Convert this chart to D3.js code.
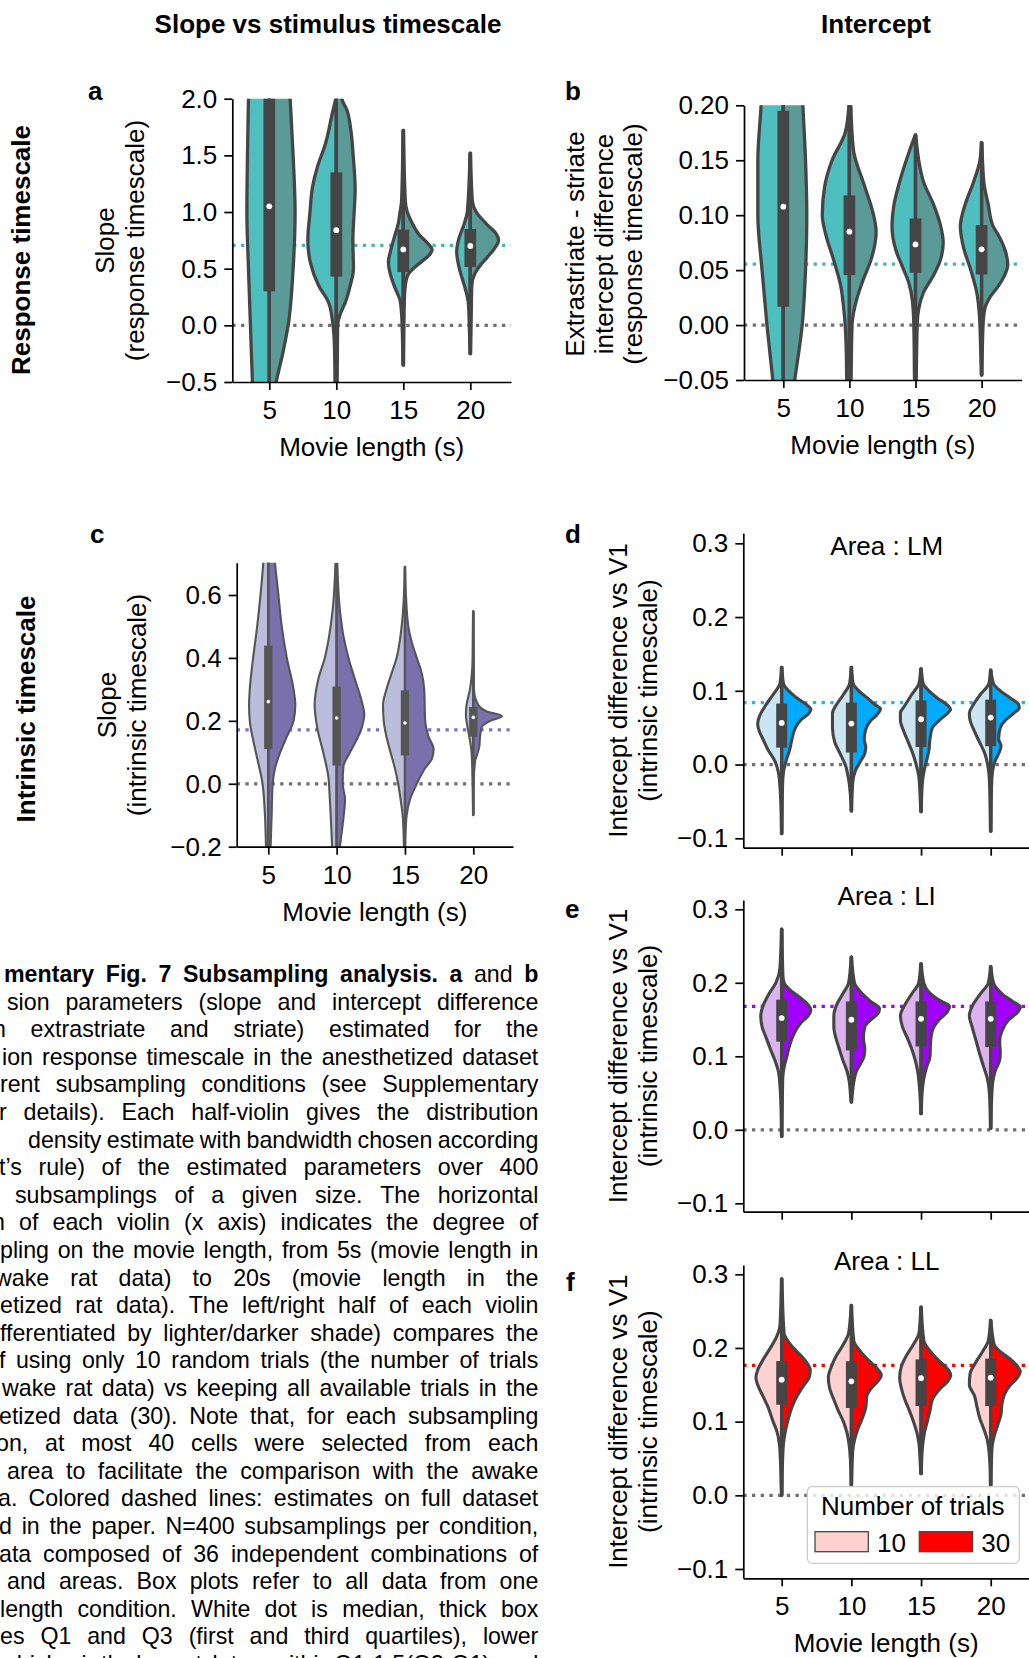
<!DOCTYPE html>
<html><head><meta charset="utf-8">
<script src="https://cdn.jsdelivr.net/npm/d3@7"></script>
<style>body{margin:0;background:#fff}svg{display:block}</style>
</head><body>
<svg id="fig" width="1029" height="1658"></svg>
<script>
// ---------------- DATA ----------------
const movieLengths = [5, 10, 15, 20];
const trialCounts = [10, 30];

// Violin profiles: [value, relative density] (left = 10 trials, right = 30 trials)
const aLeft = [
  [[2.6,20],[2.0,21],[1.5,22],[1.0,22.6],[0.5,21],[0.0,19],[-0.5,17],[-1.0,14],[-1.3,10]],
  [[2.0,0.5],[1.87,4],[1.6,11],[1.4,19],[1.22,24],[1.0,26.5],[0.75,28.7],[0.55,26],[0.35,17.7],[0.2,7.7],[0.0,3.3],[-0.2,1.8],[-0.6,1.2]],
  [[1.72,0.3],[1.1,1.7],[1.0,3.3],[0.9,5],[0.8,8.3],[0.65,13],[0.56,15],[0.45,13],[0.33,8.3],[0.22,3.3],[0.1,1.7],[0.0,1.2],[-0.35,0.3]],
  [[1.52,0.3],[1.0,3],[0.9,6],[0.75,12],[0.65,13.7],[0.5,11],[0.33,5.3],[0.2,2],[0.0,1],[-0.25,0.3]]
];
const aRight = [
  [[2.6,17],[2.0,21],[1.5,24],[1.0,26],[0.5,24],[0.0,19],[-0.25,13.5],[-0.5,7],[-0.8,2]],
  [[2.5,4],[2.0,5.7],[1.9,10.7],[1.7,15],[1.5,17],[1.2,19],[1.0,18],[0.75,16.7],[0.5,17.3],[0.35,14],[0.2,9],[0.1,4],[0.0,1.3],[-0.6,0.8]],
  [[1.72,0.3],[1.1,2],[1.0,4],[0.9,9],[0.8,16],[0.72,25],[0.67,29],[0.62,26],[0.56,18],[0.5,10],[0.45,5],[0.35,2],[0.2,1],[-0.35,0.3]],
  [[1.52,0.3],[1.1,2],[1.0,6],[0.88,18],[0.81,26],[0.75,28.5],[0.68,24.5],[0.6,17],[0.54,11],[0.46,4.7],[0.35,1.5],[0.0,0.8],[-0.25,0.3]]
];
const aQ1 = [0.30, 0.43, 0.47, 0.515];
const aMedian = [1.05, 0.84, 0.67, 0.70];
const aQ3 = [2.5, 1.35, 0.845, 0.85];
const aLow = [-1.3, -0.6, -0.35, -0.25];
const aHigh = [3.0, 2.4, 1.72, 1.52];
const aReference = 0.706;
const aTicks = [-0.5, 0, 0.5, 1.0, 1.5, 2.0];

const bLeft = [
  [[0.26,20],[0.20,22.7],[0.15,26],[0.10,26],[0.05,21.7],[0.0,16.7],[-0.05,10.7],[-0.1,5]],
  [[0.20,0.5],[0.175,4.3],[0.15,17.7],[0.126,25.3],[0.10,27.7],[0.083,24.3],[0.059,16],[0.035,8.7],[0.017,6],[0.0,4.3],[-0.02,3.3],[-0.05,2.7],[-0.08,1.5]],
  [[0.173,0.3],[0.153,8.3],[0.129,16.7],[0.108,22.3],[0.09,24],[0.068,20],[0.053,13.3],[0.038,6.7],[0.023,3.3],[0.0,1.7],[-0.05,1],[-0.08,0.5]],
  [[0.166,0.3],[0.15,1.7],[0.13,8.3],[0.11,16.7],[0.09,21.7],[0.07,18.3],[0.05,11],[0.03,5],[0.01,2.3],[-0.02,1],[-0.0455,0.3]]
];
const bRight = [
  [[0.26,17],[0.20,20],[0.15,22.7],[0.10,24],[0.05,22.7],[0.0,19.3],[-0.05,11.7],[-0.1,4]],
  [[0.20,1.5],[0.16,4],[0.126,15.7],[0.10,24.7],[0.085,27.3],[0.06,22.3],[0.041,14],[0.023,7.3],[0.01,4],[0.0,2.7],[-0.05,1.7],[-0.08,1]],
  [[0.173,0.3],[0.15,3.3],[0.13,8.3],[0.11,18.3],[0.09,25.7],[0.075,28.3],[0.06,25.7],[0.045,18.3],[0.03,8.3],[0.015,3.3],[0.0,1.7],[-0.08,0.5]],
  [[0.166,0.3],[0.13,2.3],[0.11,6.7],[0.09,11.7],[0.08,18.3],[0.065,25],[0.055,26.7],[0.045,23.3],[0.035,16.7],[0.025,8.3],[0.015,3.3],[0.0,1.5],[-0.0455,0.3]]
];
const bQ1 = [0.0167, 0.0455, 0.0476, 0.046];
const bMedian = [0.1077, 0.085, 0.0734, 0.0689];
const bQ3 = [0.195, 0.118, 0.097, 0.091];
const bLow = [-0.12, -0.08, -0.08, -0.0455];
const bHigh = [0.30, 0.20, 0.173, 0.166];
const bReference = 0.0555;
const bTicks = [-0.05, 0.0, 0.05, 0.10, 0.15, 0.20];

const cLeft = [
  [[0.9,2],[0.7,5],[0.6,7.7],[0.5,11],[0.4,15],[0.3,18.3],[0.25,19],[0.2,18.3],[0.1,12.3],[0.0,5.7],[-0.1,3.3],[-0.2,2.3],[-0.3,1.5]],
  [[0.7,1.2],[0.55,4],[0.4,11.7],[0.33,18.3],[0.25,21.7],[0.18,19.3],[0.1,13.3],[0.025,8.3],[-0.05,6.7],[-0.16,5],[-0.3,3]],
  [[0.69,0.3],[0.6,1],[0.5,3.3],[0.4,8.3],[0.35,13.3],[0.3,18.3],[0.25,21.7],[0.2,21],[0.15,18.3],[0.1,14.3],[0.05,10],[0.0,6.7],[-0.05,4.3],[-0.1,2.3],[-0.2,1]],
  [[0.548,0.3],[0.4,0.7],[0.3,3.3],[0.25,6.7],[0.22,7.3],[0.2,6.7],[0.15,4],[0.1,1.7],[0.0,0.7],[-0.0996,0.3]]
];
const cRight = [
  [[0.9,3],[0.7,6.7],[0.6,10],[0.5,13.3],[0.4,18.3],[0.3,25],[0.25,26.7],[0.2,25],[0.15,18.3],[0.1,11.7],[0.05,6.7],[0.0,4.3],[-0.1,3.3],[-0.2,2.3],[-0.3,1.5]],
  [[0.7,0.7],[0.55,3.3],[0.47,6.7],[0.4,11.7],[0.33,18.3],[0.26,25],[0.22,27.3],[0.18,25],[0.1,13.3],[0.055,6.7],[0.0,6],[-0.05,8.3],[-0.11,6.7],[-0.2,3.3],[-0.3,1.5]],
  [[0.69,0.3],[0.6,1],[0.5,3.3],[0.45,6.7],[0.4,11.7],[0.35,16.7],[0.3,19],[0.2,20],[0.15,23.3],[0.11,28.3],[0.08,26.7],[0.05,20],[0.0,11.7],[-0.05,5],[-0.1,1.7],[-0.15,0.7],[-0.2,0.3]],
  [[0.548,0.3],[0.3,0.7],[0.25,5],[0.23,13.3],[0.215,28.3],[0.2,16.7],[0.18,8.3],[0.15,6.7],[0.12,6],[0.1,4.5],[0.07,1.7],[0.0,0.4],[-0.0996,0.3]]
];
const cQ1 = [0.110, 0.058, 0.090, 0.150];
const cMedian = [0.261, 0.209, 0.193, 0.211];
const cQ3 = [0.439, 0.309, 0.297, 0.244];
const cLow = [-0.4, -0.3, -0.2, -0.0996];
const cHigh = [0.9, 0.7, 0.69, 0.548];
const cReference = 0.1716;
const cTicks = [-0.2, 0.0, 0.2, 0.4, 0.6];

const dLeft = [
  [[0.132,0.3],[0.11,1.7],[0.095,8.3],[0.08,15.7],[0.065,21.7],[0.055,23.3],[0.045,21.7],[0.035,18.3],[0.02,13.3],[0.005,6.7],[-0.01,3.3],[-0.03,1.7],[-0.06,0.7],[-0.0936,0.3]],
  [[0.132,0.3],[0.11,1.7],[0.095,7.7],[0.08,15],[0.07,18.3],[0.05,18.3],[0.03,16],[0.015,11],[0.0,6],[-0.02,2.7],[-0.04,1],[-0.063,0.3]],
  [[0.13,0.3],[0.11,2],[0.095,9],[0.08,15.7],[0.07,20],[0.06,20],[0.045,16.7],[0.03,12.3],[0.015,8],[0.0,4.7],[-0.015,2.3],[-0.04,1],[-0.064,0.3]],
  [[0.128,0.3],[0.11,1.7],[0.095,10],[0.08,17.3],[0.07,20.7],[0.06,20],[0.045,15.7],[0.03,10.7],[0.015,5.7],[0.0,3],[-0.02,1.3],[-0.05,0.7],[-0.0904,0.3]]
];
const dRight = [
  [[0.132,0.3],[0.11,1.7],[0.1,6.7],[0.09,15],[0.08,25],[0.075,28.3],[0.07,26.7],[0.06,18.3],[0.05,13.3],[0.035,10],[0.02,7.7],[0.005,4.3],[-0.01,1.7],[-0.03,0.8],[-0.0936,0.3]],
  [[0.132,0.3],[0.11,1.7],[0.1,7.3],[0.09,15.7],[0.08,24],[0.076,28.3],[0.068,25],[0.06,19],[0.042,13],[0.033,12.5],[0.024,14],[0.015,13],[0.001,7.3],[-0.008,4],[-0.025,1.3],[-0.063,0.3]],
  [[0.13,0.3],[0.11,2],[0.1,7.7],[0.09,16],[0.08,26],[0.075,28.7],[0.07,26],[0.06,17.7],[0.05,11],[0.035,8.7],[0.02,7.7],[0.005,5.3],[-0.01,2.7],[-0.03,1],[-0.064,0.3]],
  [[0.128,0.3],[0.11,2.7],[0.1,9.3],[0.09,19.3],[0.082,26.7],[0.077,27.7],[0.07,22.7],[0.06,14.3],[0.05,9.3],[0.035,7.7],[0.025,10],[0.015,7.7],[0.005,4.3],[-0.01,1.7],[-0.03,0.8],[-0.0904,0.3]]
];
const dQ1 = [0.023, 0.0163, 0.0239, 0.0248];
const dMedian = [0.0564, 0.0556, 0.0614, 0.0637];
const dQ3 = [0.0827, 0.084, 0.087, 0.088];
const dLow = [-0.0936, -0.063, -0.064, -0.0904];
const dHigh = [0.132, 0.132, 0.13, 0.128];
const dReference = 0.084;

const eLeft = [
  [[0.273,0.3],[0.22,1.7],[0.2,5.7],[0.185,12.3],[0.17,17.7],[0.155,20.3],[0.14,19],[0.125,15],[0.11,11],[0.095,6.7],[0.08,3.3],[0.06,1.7],[0.03,0.7],[-0.009,0.3]],
  [[0.235,0.3],[0.2,2.7],[0.185,8.3],[0.17,14.3],[0.155,17],[0.14,17],[0.125,15],[0.11,11.7],[0.095,8.3],[0.08,4.3],[0.065,2],[0.05,1],[0.0377,0.3]],
  [[0.226,0.3],[0.2,2.3],[0.185,9],[0.17,15.7],[0.155,20],[0.14,18],[0.125,13.3],[0.11,9],[0.095,5.7],[0.08,3.3],[0.06,1.7],[0.04,0.7],[0.022,0.3]],
  [[0.222,0.3],[0.2,2.3],[0.185,10],[0.17,17.3],[0.155,20.7],[0.14,18],[0.12,14],[0.1,10],[0.085,6.7],[0.07,3.3],[0.05,1.3],[0.03,0.7],[0.002,0.3]]
];
const eRight = [
  [[0.273,0.3],[0.21,1.2],[0.2,2.3],[0.19,8.3],[0.18,17.7],[0.17,25.7],[0.163,28.3],[0.155,25.7],[0.145,18.3],[0.13,11.7],[0.115,7.7],[0.1,5],[0.085,2.3],[0.07,1],[-0.009,0.3]],
  [[0.235,0.3],[0.2,3],[0.185,10.7],[0.175,18.3],[0.165,27.3],[0.158,25.7],[0.15,19],[0.14,13],[0.125,11.7],[0.11,13],[0.1,12.3],[0.09,9],[0.08,5],[0.065,2.3],[0.05,1],[0.0377,0.3]],
  [[0.226,0.3],[0.2,2.7],[0.185,9.3],[0.175,19.3],[0.168,27.7],[0.16,25.3],[0.15,17.7],[0.135,11],[0.12,9.3],[0.1,8.7],[0.085,5.3],[0.07,2.7],[0.05,1],[0.022,0.3]],
  [[0.222,0.3],[0.2,2.7],[0.185,11],[0.175,21],[0.167,28.7],[0.16,26],[0.15,17.7],[0.135,11],[0.12,8.7],[0.105,9.3],[0.095,8.7],[0.08,4.3],[0.065,2],[0.04,0.8],[0.002,0.3]]
];
const eQ1 = [0.120, 0.108, 0.1134, 0.1125];
const eMedian = [0.152, 0.1497, 0.151, 0.151];
const eQ3 = [0.177, 0.1746, 0.1746, 0.1746];
const eLow = [-0.009, 0.0377, 0.022, 0.002];
const eHigh = [0.273, 0.235, 0.226, 0.222];
const eReference = 0.1678;

const fLeft = [
  [[0.294,0.3],[0.23,1.7],[0.215,5],[0.2,11],[0.185,17.7],[0.17,23.3],[0.16,25],[0.15,23.3],[0.135,18.3],[0.12,13.3],[0.1,8.3],[0.085,4.3],[0.07,2.3],[0.05,1.3],[0.02,0.7],[0.0,0.3]],
  [[0.258,0.3],[0.22,2.7],[0.205,7.7],[0.19,14.3],[0.175,19.3],[0.16,22.3],[0.145,21],[0.13,17],[0.115,12.7],[0.1,7.7],[0.085,4.3],[0.07,2.3],[0.05,1],[0.0136,0.3]],
  [[0.2555,0.3],[0.22,2],[0.205,7.3],[0.19,14],[0.175,19],[0.16,20.7],[0.145,19],[0.13,15.7],[0.115,11.3],[0.1,7.3],[0.085,4],[0.07,2],[0.05,1],[0.0294,0.3]],
  [[0.2374,0.3],[0.21,2.3],[0.195,8],[0.18,14.7],[0.165,20],[0.15,20.7],[0.135,15.7],[0.12,13.3],[0.105,10.7],[0.09,6.7],[0.075,3.3],[0.06,1.7],[0.04,0.7],[0.0136,0.3]]
];
const fRight = [
  [[0.294,0.3],[0.22,2.3],[0.205,8.3],[0.19,18.3],[0.18,24.3],[0.17,27.7],[0.16,26.7],[0.15,21.7],[0.135,15],[0.12,10],[0.1,5.7],[0.085,3.3],[0.07,1.7],[0.04,0.7],[0.0,0.3]],
  [[0.258,0.3],[0.21,2.3],[0.195,9],[0.18,19],[0.17,26.3],[0.163,29],[0.155,25.7],[0.145,19],[0.135,15],[0.12,14],[0.105,10.7],[0.09,6.3],[0.075,3],[0.06,1.3],[0.0136,0.3]],
  [[0.2555,0.3],[0.21,2.7],[0.195,9.3],[0.18,19.3],[0.17,26.7],[0.163,28.7],[0.155,26],[0.145,18.7],[0.13,11],[0.115,8.7],[0.1,6],[0.085,3.3],[0.07,1.7],[0.05,0.7],[0.0294,0.3]],
  [[0.2374,0.3],[0.205,3.3],[0.195,9.3],[0.185,18.7],[0.175,26],[0.168,28.7],[0.16,26],[0.15,19.3],[0.14,14.3],[0.125,11],[0.11,10],[0.095,6.7],[0.08,3.3],[0.065,1.3],[0.04,0.6],[0.0136,0.3]]
];
const fQ1 = [0.123, 0.1185, 0.1212, 0.1212];
const fMedian = [0.157, 0.1547, 0.159, 0.1597];
const fQ3 = [0.1822, 0.182, 0.1845, 0.1855];
const fLow = [0.0, 0.0136, 0.0294, 0.0136];
const fHigh = [0.294, 0.258, 0.2555, 0.2374];
const fReference = 0.1764;
const areaTicks = [-0.1, 0.0, 0.1, 0.2, 0.3];

const captionLines = [
  "*mentary *Fig. *7 *Subsampling *analysis. *a and *b",
  "sion parameters (slope and intercept difference",
  "n extrastriate and striate) estimated for the",
  "ion response timescale in the anesthetized dataset",
  "rent subsampling conditions (see Supplementary",
  "r details). Each half-violin gives the distribution",
  "density estimate with bandwidth chosen according",
  "t\u2019s rule) of the estimated parameters over 400",
  "subsamplings of a given size. The horizontal",
  "n of each violin (x axis) indicates the degree of",
  "pling on the movie length, from 5s (movie length in",
  "wake rat data) to 20s (movie length in the",
  "etized rat data). The left/right half of each violin",
  "fferentiated by lighter/darker shade) compares the",
  "f using only 10 random trials (the number of trials",
  "wake rat data) vs keeping all available trials in the",
  "etized data (30). Note that, for each subsampling",
  "on, at most 40 cells were selected from each",
  "area to facilitate the comparison with the awake",
  "a. Colored dashed lines: estimates on full dataset",
  "d in the paper. N=400 subsamplings per condition,",
  "ata composed of 36 independent combinations of",
  "and areas. Box plots refer to all data from one",
  "length condition. White dot is median, thick box",
  "es Q1 and Q3 (first and third quartiles), lower",
  "whisker is the lowest datum within Q1-1.5(Q3-Q1), and"
];
const captionStarts = [4,7,-7,2,0,-1,28,-1,15,-8,0,-5,0,0,-1,2,-1,-4,7,-2,-1,-1,7,0,0,0];

// ---------------- DRAWING ----------------
const FONT = '"Liberation Sans", Arial, Helvetica, sans-serif';
const svg = d3.select('#fig').attr('font-family', FONT);
const GRAY_REF = '#707070';

function drawPanel(p) {
  const g = svg.append('g');
  const y0 = d3.scaleLinear().domain([p.tickA[0], p.tickB[0]]).range([p.tickA[1], p.tickB[1]]);
  const y = d3.scaleLinear().domain([y0.invert(p.bottom), y0.invert(p.top)]).range([p.bottom, p.top]);
  const x = d3.scaleLinear()
    .domain([(p.left - p.cx0) / p.step, (p.right - p.cx0) / p.step])
    .range([p.left, p.right]);
  const w = d3.scaleLinear().domain([0, 1]).range([0, p.step / 67.5]);

  const clipId = 'clip-' + p.id;
  g.append('clipPath').attr('id', clipId).append('rect')
    .attr('x', p.left).attr('y', p.top).attr('width', p.right - p.left).attr('height', p.bottom - p.top);
  const plot = g.append('g').attr('clip-path', `url(#${clipId})`);

  // reference lines
  [[0, GRAY_REF], [p.reference, p.refColor]].forEach(([v, col]) => {
    plot.append('line').attr('x1', p.left).attr('x2', p.right)
      .attr('y1', y(v)).attr('y2', y(v))
      .attr('stroke', col).attr('stroke-width', 3.3).attr('stroke-dasharray', '3.3,5.4');
  });

  // violins
  const sides = [[p.leftData, -1, p.colors[0]], [p.rightData, 1, p.colors[1]]];
  movieLengths.forEach((m, i) => {
    const cx = x(i);
    sides.forEach(([arr, sgn, col]) => {
      const prof = arr[i].slice().sort((a, b) => b[0] - a[0]);
      const area = d3.area().curve(d3.curveMonotoneY)
        .y(d => y(d[0])).x0(cx).x1(d => cx + sgn * w(d[1]));
      plot.append('path').attr('d', area(prof))
        .attr('fill', col).attr('stroke', p.outline).attr('stroke-width', p.outlineW)
        .attr('stroke-linejoin', 'round');
    });
  });
  // inner box
  movieLengths.forEach((m, i) => {
    const cx = x(i);
    plot.append('line').attr('x1', cx).attr('x2', cx)
      .attr('y1', y(p.low[i])).attr('y2', y(p.high[i]))
      .attr('stroke', p.outline).attr('stroke-width', p.whiskerW);
    plot.append('rect').attr('x', cx - p.boxW / 2).attr('width', p.boxW)
      .attr('y', y(p.q3[i])).attr('height', y(p.q1[i]) - y(p.q3[i]))
      .attr('fill', p.outline);
    plot.append('circle').attr('cx', cx).attr('cy', y(p.median[i])).attr('r', p.medianR)
      .attr('fill', '#fff');
  });

  // axes
  const yAxis = d3.axisLeft(y).tickValues(p.ticks).tickFormat(d3.format(p.fmt))
    .tickSize(8).tickPadding(7).tickSizeOuter(0);
  const ga = g.append('g').attr('transform', `translate(${p.left},0)`).call(yAxis);
  const xAxis = d3.axisBottom(x).tickValues(d3.range(movieLengths.length))
    .tickFormat(i => p.xLabels ? movieLengths[i] : '')
    .tickSize(8).tickPadding(10.5).tickSizeOuter(0);
  const gx = g.append('g').attr('transform', `translate(0,${p.bottom})`).call(xAxis);
  [ga, gx].forEach(a => {
    a.attr('font-size', 26).attr('font-family', FONT);
    a.selectAll('path, line').attr('stroke', '#000').attr('stroke-width', 1.7);
    a.selectAll('text').attr('fill', '#000');
  });

  if (p.xLabels) {
    g.append('text').attr('x', (p.left + p.right) / 2).attr('y', p.bottom + 74)
      .attr('text-anchor', 'middle').attr('font-size', 26).text('Movie length (s)');
  }
  // y label
  const yl = g.append('text').attr('transform', `translate(0,${p.ylabelY}) rotate(-90)`)
    .attr('text-anchor', 'middle').attr('font-size', 26);
  p.ylabel.forEach((t, k) => {
    yl.append('tspan').attr('x', 0).attr('y', p.ylabelX[k]).text(t);
  });
  // panel letter
  g.append('text').attr('x', p.letterPos[0]).attr('y', p.letterPos[1])
    .attr('font-size', 26).attr('font-weight', 'bold').text(p.id);
  if (p.title) {
    g.append('text').attr('x', p.titlePos[0]).attr('y', p.titlePos[1])
      .attr('text-anchor', 'middle').attr('font-size', 26).text(p.title);
  }
  return {g, x, y};
}

const tealStyle = {outline: '#454545', outlineW: 3.3, boxW: 11.7, whiskerW: 3.2, medianR: 2.9,
  colors: ['#4ebfbe', '#5a9b98'], refColor: '#48b4b4'};
const areaStyle = {outline: '#454545', outlineW: 3.1, boxW: 11, whiskerW: 3, medianR: 2.9};

drawPanel(Object.assign({}, tealStyle, {id: 'a', left: 232.3, right: 511, top: 98.7, bottom: 382,
  tickA: [2.0, 98.7], tickB: [-0.5, 382], cx0: 269.3, step: 67, ticks: aTicks, fmt: '.1f', xLabels: true,
  leftData: aLeft, rightData: aRight, q1: aQ1, median: aMedian, q3: aQ3, low: aLow, high: aHigh,
  reference: aReference, ylabel: ['Slope', '(response timescale)'], ylabelX: [113.5, 143.5], ylabelY: 240.5,
  letterPos: [88, 100]}));

drawPanel(Object.assign({}, tealStyle, {id: 'b', left: 744, right: 1021.7, top: 105.3, bottom: 380,
  tickA: [0.20, 105.3], tickB: [-0.05, 380], cx0: 783.3, step: 66.1, ticks: bTicks, fmt: '.2f', xLabels: true,
  leftData: bLeft, rightData: bRight, q1: bQ1, median: bMedian, q3: bQ3, low: bLow, high: bHigh,
  reference: bReference, ylabel: ['Extrastriate - striate', 'intercept difference', '(response timescale)'],
  ylabelX: [584, 613, 642], ylabelY: 244, letterPos: [565, 100]}));

drawPanel({id: 'c', left: 236.7, right: 513, top: 562.7, bottom: 846.7,
  tickA: [0.6, 595], tickB: [-0.2, 846.7], cx0: 268.3, step: 68.33, ticks: cTicks, fmt: '.1f', xLabels: true,
  outline: '#555555', outlineW: 2.1, boxW: 8.3, whiskerW: 2.2, medianR: 1.8,
  colors: ['#bcbddc', '#7a70ac'], refColor: '#7d72c2',
  leftData: cLeft, rightData: cRight, q1: cQ1, median: cMedian, q3: cQ3, low: cLow, high: cHigh,
  reference: cReference, ylabel: ['Slope', '(intrinsic timescale)'], ylabelX: [116, 146], ylabelY: 705,
  letterPos: [90, 543]});

const areaYLabel = ['Intercept difference vs V1', '(intrinsic timescale)'];
drawPanel(Object.assign({}, areaStyle, {id: 'd', left: 743.3, right: 1029, top: 533.3, bottom: 847.7,
  tickA: [0.3, 543.3], tickB: [-0.1, 838.3], cx0: 781.7, step: 69.67, ticks: areaTicks, fmt: '.1f', xLabels: false,
  colors: ['#cbe6f3', '#00aaff'], refColor: '#1ab4ff',
  leftData: dLeft, rightData: dRight, q1: dQ1, median: dMedian, q3: dQ3, low: dLow, high: dHigh,
  reference: dReference, ylabel: areaYLabel, ylabelX: [626.5, 656.5], ylabelY: 690.5,
  letterPos: [565, 543], title: 'Area : LM', titlePos: [886.7, 555]}));

drawPanel(Object.assign({}, areaStyle, {id: 'e', left: 743.3, right: 1029, top: 900, bottom: 1211.7,
  tickA: [0.3, 909.3], tickB: [-0.1, 1203.3], cx0: 781.7, step: 69.67, ticks: areaTicks, fmt: '.1f', xLabels: false,
  colors: ['#dcb3ee', '#a100ff'], refColor: '#a100ff',
  leftData: eLeft, rightData: eRight, q1: eQ1, median: eMedian, q3: eQ3, low: eLow, high: eHigh,
  reference: eReference, ylabel: areaYLabel, ylabelX: [626.5, 656.5], ylabelY: 1056,
  letterPos: [565, 918], title: 'Area : LI', titlePos: [886.7, 905]}));

const fColors = ['#ffd1d1', '#ff0000'];
const fp = drawPanel(Object.assign({}, areaStyle, {id: 'f', left: 743.3, right: 1029, top: 1265, bottom: 1578.3,
  tickA: [0.3, 1274.3], tickB: [-0.1, 1569], cx0: 781.7, step: 69.67, ticks: areaTicks, fmt: '.1f', xLabels: true,
  colors: fColors, refColor: '#ff0000',
  leftData: fLeft, rightData: fRight, q1: fQ1, median: fMedian, q3: fQ3, low: fLow, high: fHigh,
  reference: fReference, ylabel: areaYLabel, ylabelX: [626.5, 656.5], ylabelY: 1421.7,
  letterPos: [566, 1291], title: 'Area : LL', titlePos: [886.7, 1270]}));

// legend (panel f)
const lg = fp.g.append('g');
lg.append('rect').attr('x', 807.3).attr('y', 1486.7).attr('width', 212).attr('height', 76.6)
  .attr('rx', 5).attr('fill', '#fff').attr('fill-opacity', 0.8)
  .attr('stroke', '#cccccc').attr('stroke-width', 1.3);
lg.append('text').attr('x', 912.7).attr('y', 1515.3).attr('text-anchor', 'middle')
  .attr('font-size', 26).text('Number of trials');
trialCounts.forEach((t, k) => {
  const x0 = 815 + k * 104.3;
  lg.append('rect').attr('x', x0).attr('y', 1531.7).attr('width', 53.3).attr('height', 20)
    .attr('fill', fColors[k]).attr('stroke', '#474747').attr('stroke-width', 1.3);
  lg.append('text').attr('x', x0 + 62).attr('y', 1552).attr('font-size', 26).text(t);
});

// column and row titles
svg.append('text').attr('x', 328).attr('y', 33).attr('text-anchor', 'middle')
  .attr('font-size', 26).attr('font-weight', 'bold').text('Slope vs stimulus timescale');
svg.append('text').attr('x', 876).attr('y', 33).attr('text-anchor', 'middle')
  .attr('font-size', 26).attr('font-weight', 'bold').text('Intercept');
svg.append('text').attr('transform', 'translate(30.3,250) rotate(-90)').attr('text-anchor', 'middle')
  .attr('font-size', 26).attr('font-weight', 'bold').text('Response timescale');
svg.append('text').attr('transform', 'translate(35.3,709) rotate(-90)').attr('text-anchor', 'middle')
  .attr('font-size', 26).attr('font-weight', 'bold').text('Intrinsic timescale');

// caption (justified lines, clipped at the left page edge)
const cap = svg.append('g').attr('font-size', 23.2).attr('fill', '#000');
const captionRight = 538.3, captionBase = 982, captionPitch = 27.6;
captionLines.forEach((line, i) => {
  const words = line.split(' ');
  const by = captionBase + i * captionPitch;
  const nodes = words.map(wd => {
    const bold = wd.startsWith('*');
    return cap.append('text').attr('y', by).attr('font-weight', bold ? 'bold' : 'normal')
      .text(bold ? wd.slice(1) : wd);
  });
  const widths = nodes.map(n => n.node().getComputedTextLength());
  const gap = words.length > 1 ? (captionRight - captionStarts[i] - d3.sum(widths)) / (words.length - 1) : 0;
  let xx = captionStarts[i];
  nodes.forEach((n, k) => { n.attr('x', xx); xx += widths[k] + gap; });
});
</script>
</body></html>
